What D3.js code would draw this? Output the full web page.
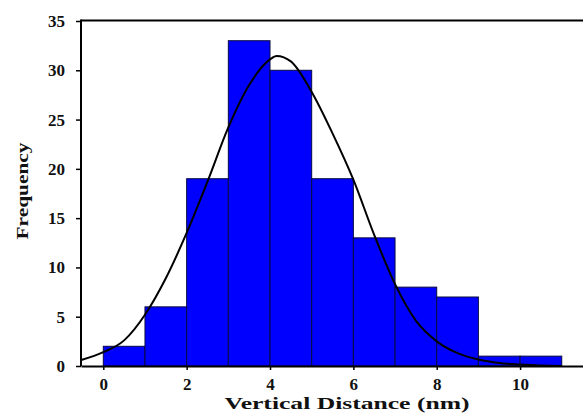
<!DOCTYPE html>
<html>
<head>
<meta charset="utf-8">
<script src="https://cdn.jsdelivr.net/npm/d3@7"></script>
<style>
  body { margin: 0; background: #fff; }
  svg text { font-family: 'Liberation Serif', 'Times New Roman', Times, serif; font-weight: 700; fill: #111; }
</style>
</head>
<body>
<div id="chart"></div>
<script>
// Histogram of vertical distances with a fitted curve

// Bin edges and counts
const binStarts = [0, 1, 2, 3, 4, 5, 6, 7, 8, 9, 10];
const binWidth = 1;
const counts = [2, 6, 19, 33, 30, 19, 13, 8, 7, 1, 1];

// Fit curve, points
const curveX = [-0.53, 0, 0.5, 1, 1.5, 2, 2.5, 3, 3.5, 4, 4.16, 4.5, 5, 5.5, 6, 6.5, 7, 7.5, 8, 8.5, 9, 9.5, 10, 10.5, 11];
const curveY = [0.6, 1.4, 2.6, 5.2, 8.9, 13.5, 18.7, 24.2, 28.5, 31.1, 31.45, 30.9, 27.8, 23.6, 18.9, 13.3, 8.3, 4.6, 2.5, 1.3, 0.65, 0.3, 0.15, 0.05, 0];

// Tick values
const xTicks = [0, 2, 4, 6, 8, 10];
const yTicks = [0, 5, 10, 15, 20, 25, 30, 35];

const W = 583, H = 415;
const plotLeft = 81, plotRight = 583, plotTop = 21, plotBottom = 366;

const svg = d3.select('#chart')
    .append('svg')
    .attr('width', W)
    .attr('height', H);

const x = d3.scaleLinear().domain([-0.535, 11.51]).range([plotLeft, plotRight]);
const y = d3.scaleLinear().domain([0, 35]).range([plotBottom, plotTop]);

// Bars
svg.selectAll('.bar')
    .data(counts)
    .enter()
    .append('rect')
    .attr('class', 'bar')
    .attr('x', (d, i) => x(binStarts[i]))
    .attr('y', d => y(d))
    .attr('width', (d, i) => x(binStarts[i] + binWidth) - x(binStarts[i]))
    .attr('height', d => y(0) - y(d))
    .attr('fill', '#0000ff')
    .attr('stroke', '#0a0a40')
    .attr('stroke-width', 1);

// Fitted curve
const line = d3.line()
    .x(d => x(d[0]))
    .y(d => y(d[1]))
    .curve(d3.curveMonotoneX);

svg.append('path')
    .datum(curveX.map((v, i) => [v, curveY[i]]))
    .attr('d', line)
    .attr('fill', 'none')
    .attr('stroke', '#000')
    .attr('stroke-width', 2);

// Top frame line
svg.append('line')
    .attr('x1', plotLeft).attr('x2', plotRight)
    .attr('y1', plotTop - 0.5).attr('y2', plotTop - 0.5)
    .attr('stroke', '#000')
    .attr('stroke-width', 2);

// Axes
const yAxis = svg.append('g')
    .attr('transform', `translate(${plotLeft},0)`)
    .call(d3.axisLeft(y).tickValues(yTicks).tickSize(5).tickSizeOuter(0).tickPadding(11));

const xAxis = svg.append('g')
    .attr('transform', `translate(0,${plotBottom})`)
    .call(d3.axisBottom(x).tickValues(xTicks).tickSize(4).tickSizeOuter(0).tickPadding(8));

[yAxis, xAxis].forEach(g => {
    g.attr('font-family', null).attr('font-size', null);
    g.select('.domain').attr('stroke', '#000').attr('stroke-width', 2);
    g.selectAll('.tick line').attr('stroke', '#000').attr('stroke-width', 1.5);
    g.selectAll('.tick text')
        .style('font-size', '17px')
        .attr('fill', '#111');
});
yAxis.select('.domain').attr('d', `M0,${plotBottom}V${plotTop - 1.5}`);

// Axis titles
svg.append('text')
    .attr('x', 347)
    .attr('y', 409)
    .attr('text-anchor', 'middle')
    .attr('textLength', 245)
    .attr('lengthAdjust', 'spacingAndGlyphs')
    .style('font-size', '17px')
    .text('Vertical Distance (nm)');

svg.append('text')
    .attr('transform', 'translate(28,191) rotate(-90)')
    .attr('text-anchor', 'middle')
    .attr('textLength', 97)
    .attr('lengthAdjust', 'spacingAndGlyphs')
    .style('font-size', '17px')
    .text('Frequency');
</script>
</body>
</html>
